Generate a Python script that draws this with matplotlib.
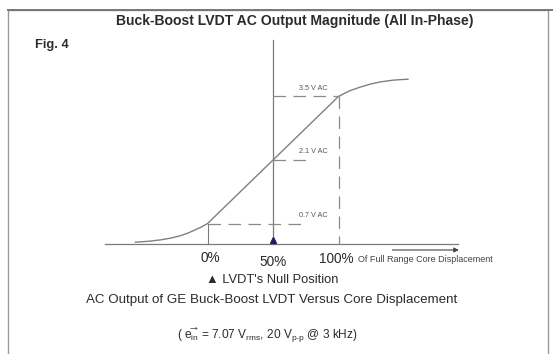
import matplotlib
matplotlib.use("Agg")
import matplotlib.pyplot as plt
from matplotlib.patches import Rectangle

plt.rcParams['font.family'] = ['Liberation Sans', 'DejaVu Sans']
plt.rcParams['mathtext.fontset'] = 'custom'
plt.rcParams['mathtext.rm'] = 'Liberation Sans'
plt.rcParams['mathtext.it'] = 'Liberation Sans:italic'

# curve: core displacement (%) vs AC output (V)
pct_curve = [-55, -45, -36, -28, -21, -15, -9.5, -5, 0, 50, 100, 104, 109, 116, 124, 132, 142, 153]
volt_curve = [0.29, 0.31, 0.34, 0.38, 0.43, 0.49, 0.56, 0.62, 0.7, 2.1, 3.5, 3.56, 3.63, 3.7, 3.77, 3.82, 3.86, 3.88]

tick_pct = [0, 50, 100]
tick_labels = ['0%', '50%', '100%']
level_volts = [0.7, 2.1, 3.5]
level_labels = ['0.7 V AC', '2.1 V AC', '3.5 V AC']
level_start = [0, 50, 50]
level_end = [74, 78, 100]

W, H = 553, 354
fig = plt.figure(figsize=(W / 100, H / 100), dpi=100)
ax = fig.add_axes([0, 0, 1, 1])
ax.set_xlim(-158.4, 263.7)
ax.set_ylim(-2.173, 5.624)
ax.axis('off')

def fx(px):
    return px / W

def fy(py):
    return 1 - py / H

txt = '#2b2b2b'
line_c = '#7a7a7a'
dash_c = '#8a8a8a'
base = 0.25

# frame
fig.patches.append(Rectangle((fx(8), fy(400)), fx(540), 390 / H, transform=fig.transFigure,
                             fill=False, edgecolor='#9a9a9a', lw=1.0))
fig.add_artist(plt.Line2D([fx(8), 1], [fy(10), fy(10)], color='#777777', lw=1.4,
                          transform=fig.transFigure))

# axes
ax.plot([-78, 191], [base, base], color=line_c, lw=0.9)
ax.plot([50, 50], [base, 4.74], color=line_c, lw=0.9)
ax.annotate('', xy=(194, 0.118), xytext=(139, 0.118),
            arrowprops=dict(arrowstyle='-|>', color='#444444', lw=0.8, mutation_scale=7))

# curve
ax.plot(pct_curve, volt_curve, color='#808080', lw=1.0)

# guide lines
for v, lab, x0, x1 in zip(level_volts, level_labels, level_start, level_end):
    ax.plot([x0, x1], [v, v], color=dash_c, lw=0.9, ls=(0, (10, 6)))
    ax.text(81, v + 0.1, lab, fontsize=5.2, color='#555555', ha='center', va='bottom')
ax.plot([100, 100], [3.5, base], color=dash_c, lw=0.9, ls=(0, (10, 6)))
ax.plot([0, 0], [0.7, base], color=line_c, lw=0.8)

# null marker
ax.plot([50], [base + 0.08], marker='^', color='#1f1f5f', ms=5, clip_on=False)

# tick labels
fig.text(fx(210), fy(258), tick_labels[0], fontsize=9.8, color=txt, ha='center', va='center')
fig.text(fx(273), fy(262), tick_labels[1], fontsize=9.8, color=txt, ha='center', va='center')
fig.text(fx(336), fy(259), tick_labels[2], fontsize=9.8, color=txt, ha='center', va='center')
fig.text(fx(358), fy(260), 'Of Full Range Core Displacement', fontsize=6.5, color='#444444',
         ha='left', va='center')

# titles and captions
fig.text(fx(295), fy(21), 'Buck-Boost LVDT AC Output Magnitude (All In-Phase)', fontsize=10.1,
         fontweight='bold', color=txt, ha='center', va='center')
fig.text(fx(35), fy(45), 'Fig. 4', fontsize=9.3, fontweight='bold', color=txt, ha='left', va='center')
fig.text(fx(272), fy(280), "\u25b2 LVDT's Null Position", fontsize=9.3, color=txt,
         ha='center', va='center')
fig.text(fx(272), fy(300), 'AC Output of GE Buck-Boost LVDT Versus Core Displacement', fontsize=9.6,
         color=txt, ha='center', va='center')
fig.text(fx(267), fy(335),
         r'( $\overrightarrow{\mathrm{e_{in}}}$ = 7.07 V$_{\mathrm{rms}}$, 20 V$_{\mathrm{p\text{-}p}}$ @ 3 kHz)',
         fontsize=8.6, color=txt, ha='center', va='center')

fig.savefig('out.png', dpi=100, facecolor='white')
